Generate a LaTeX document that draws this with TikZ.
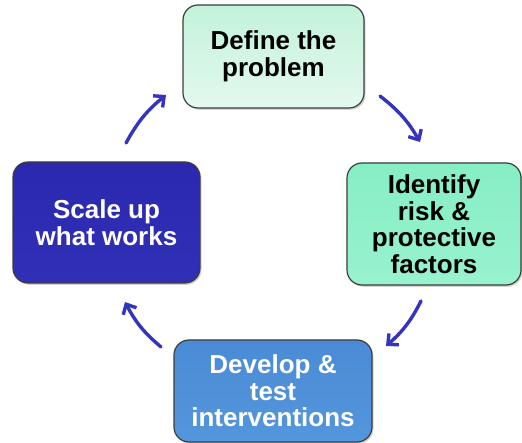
\documentclass[tikz,border=0pt]{standalone}
\usepackage{fontspec}
\setmainfont{Liberation Sans}
\usetikzlibrary{arrows.meta,shadows}
\definecolor{arrowblue}{HTML}{3434BE}
\definecolor{edgegray}{HTML}{3C3C3C}
\definecolor{mintA}{HTML}{C2F2DA}
\definecolor{mintB}{HTML}{E4F9EF}
\definecolor{greenA}{HTML}{86EEC4}
\definecolor{greenB}{HTML}{98F2CF}
\definecolor{steelA}{HTML}{4A8BD6}
\definecolor{steelB}{HTML}{5496DC}
\definecolor{navyA}{HTML}{2A28AE}
\definecolor{navyB}{HTML}{3030B6}
\tikzset{
  stagebox/.style={draw=edgegray, line width=1.2pt, rounded corners=15pt,
    inner sep=0pt, align=center,
    font=\fontsize{26}{26.5}\selectfont\bfseries,
    drop shadow={shadow xshift=1.5pt, shadow yshift=-1.8pt, opacity=0.35}},
  cyclearrow/.style={draw=arrowblue, line width=3.4pt, line cap=round,
    -{Straight Barb[length=8pt,width=15pt,line width=3.4pt]}}
}
\begin{document}
\begin{tikzpicture}[x=1pt,y=-1pt]
\useasboundingbox (0,0) rectangle (522,443);
\node[stagebox, top color=mintA, bottom color=mintB, text=black,
  minimum width=181pt, minimum height=103pt] (define) at (273.5,56.5)
  {Define the\\problem};
\node[stagebox, top color=greenA, bottom color=greenB, text=black,
  minimum width=174pt, minimum height=122pt] (identify) at (434,224)
  {Identify\\risk \&\\protective\\factors};
\node[stagebox, top color=steelA, bottom color=steelB, text=white,
  minimum width=198pt, minimum height=102pt] (develop) at (273,391)
  {Develop \&\\test\\interventions};
\node[stagebox, top color=navyA, bottom color=navyB, text=white,
  minimum width=187pt, minimum height=121pt] (scale) at (106.5,222.5)
  {Scale up\\what works};
\coordinate (a1s) at (126,143); \coordinate (a1e) at (166,95);
\coordinate (a2s) at (380,96);  \coordinate (a2e) at (420,142);
\coordinate (a3s) at (421,301); \coordinate (a3e) at (386,346);
\coordinate (a4s) at (161,347); \coordinate (a4e) at (125,302);
\draw[cyclearrow] (a1s) to[bend left=11] (a1e);
\draw[cyclearrow] (a2s) to[bend left=11] (a2e);
\draw[cyclearrow] (a3s) to[bend left=11] (a3e);
\draw[cyclearrow] (a4s) to[bend left=11] (a4e);
\end{tikzpicture}
\end{document}
